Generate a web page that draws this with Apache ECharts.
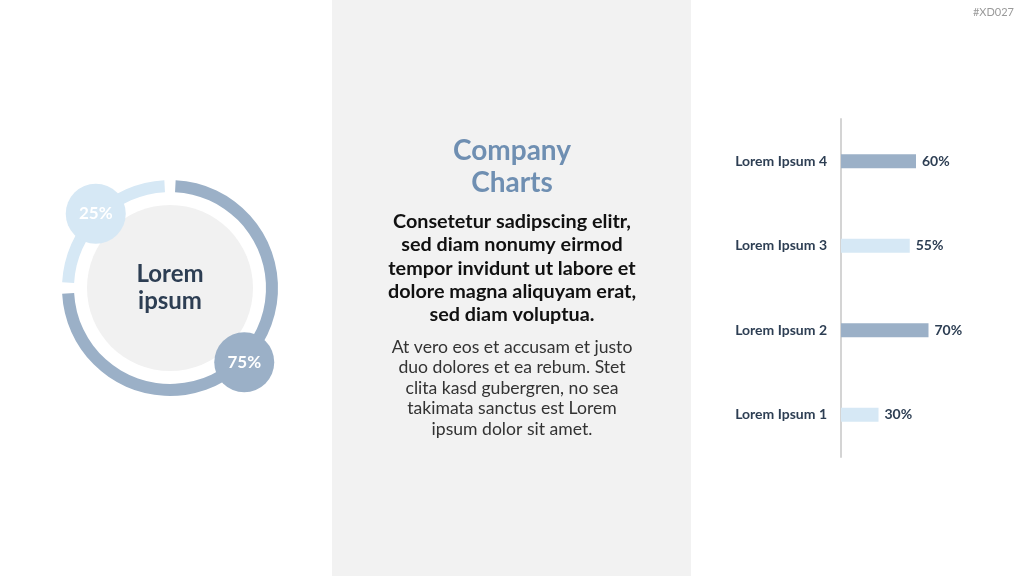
<!DOCTYPE HTML>
<html>
	<head>
		<meta charset="utf-8">
		<title>Company Charts</title>
		<style type="text/css">
			html, body { margin: 0; padding: 0; background: #ffffff; }
			#main { width: 1024px; height: 576px; }
		</style>
	</head>
	<body>
		<div id="main"></div>
	</body>
	<script type="text/javascript" src="https://cdn.jsdelivr.net/npm/echarts@6/dist/echarts.min.js"></script>
	<script type="text/javascript">
		// 数据
		var ringNames = ['Part A', 'Part B'];
		var ringValues = [75, 25];
		var centerLabel = 'Lorem\nipsum';
		var barCategories = ['Lorem Ipsum 1', 'Lorem Ipsum 2', 'Lorem Ipsum 3', 'Lorem Ipsum 4'];
		var barValues = [30, 70, 55, 60];

		var darkBlue = '#9bb0c7';
		var lightBlue = '#d6e8f5';
		var navy = '#2d3e53';
		var font = 'Lato';
		var ringColors = [darkBlue, lightBlue];
		var barColors = [lightBlue, darkBlue, lightBlue, darkBlue];

		option = {
			backgroundColor : '#ffffff',
			animation : false,
			graphic : [{
				type : 'rect',
				z : -10,
				shape : { x : 332, y : 0, width : 359, height : 576 },
				style : { fill : '#f2f2f2' }
			}],
			title : [{
				text : 'Company\nCharts',
				left : 512,
				top : 135,
				padding : 0,
				textAlign : 'center',
				textStyle : {
					fontFamily : font,
					fontSize : 28,
					fontWeight : 'bold',
					color : '#6f8fb2',
					lineHeight : 32,
					align : 'center'
				}
			}, {
				text : 'Consetetur sadipscing elitr,\nsed diam nonumy eirmod\ntempor invidunt ut labore et\ndolore magna aliquyam erat,\nsed diam voluptua.',
				left : 512,
				top : 210,
				padding : 0,
				textAlign : 'center',
				textStyle : {
					fontFamily : font,
					fontSize : 19.8,
					fontWeight : 'bold',
					color : '#111111',
					lineHeight : 23.3,
					align : 'center'
				}
			}, {
				text : 'At vero eos et accusam et justo\nduo dolores et ea rebum. Stet\nclita kasd gubergren, no sea\ntakimata sanctus est Lorem\nipsum dolor sit amet.',
				left : 512,
				top : 337,
				padding : 0,
				textAlign : 'center',
				textStyle : {
					fontFamily : font,
					fontSize : 17.6,
					fontWeight : 'normal',
					color : '#333333',
					lineHeight : 20.5,
					align : 'center'
				}
			}, {
				text : '#XD027',
				right : 10,
				top : 7,
				padding : 0,
				textStyle : {
					fontFamily : font,
					fontSize : 11,
					fontWeight : 'normal',
					color : '#9a9a9a'
				}
			}],
			grid : {
				left : 841,
				top : 119,
				width : 125,
				height : 338
			},
			xAxis : {
				type : 'value',
				min : 0,
				max : 100,
				show : false
			},
			yAxis : {
				type : 'category',
				data : barCategories,
				axisLine : { show : true, lineStyle : { color : '#d4d4d4', width : 2 } },
				axisTick : { show : false },
				axisLabel : {
					margin : 14,
					fontFamily : font,
					fontSize : 14,
					fontWeight : 'bold',
					color : navy
				}
			},
			series : [{
				type : 'pie',
				silent : true,
				z : 1,
				center : [170, 288],
				radius : [0, 83],
				itemStyle : { color : '#f1f1f1' },
				label : {
					position : 'center',
					formatter : '{b}',
					fontFamily : font,
					fontSize : 24,
					fontWeight : 'bold',
					lineHeight : 27,
					color : navy
				},
				labelLine : { show : false },
				data : [{ value : 1, name : centerLabel }]
			}, {
				type : 'pie',
				silent : true,
				z : 2,
				center : [170, 288],
				radius : [96, 108],
				startAngle : 90,
				clockwise : true,
				padAngle : 6,
				labelLine : { show : false },
				label : {
					position : 'inside',
					rotate : 0,
					formatter : '{c}%',
					width : 60,
					height : 60,
					lineHeight : 60,
					borderRadius : 30,
					align : 'center',
					verticalAlign : 'middle',
					fontFamily : font,
					fontSize : 17,
					fontWeight : 'bold',
					color : '#ffffff'
				},
				data : ringValues.map(function(v, i) {
					return {
						value : v,
						name : ringNames[i],
						itemStyle : { color : ringColors[i] },
						label : { backgroundColor : ringColors[i] }
					};
				})
			}, {
				type : 'bar',
				barWidth : 14,
				data : barValues.map(function(v, i) {
					return { value : v, itemStyle : { color : barColors[i] } };
				}),
				label : {
					show : true,
					position : 'right',
					distance : 6,
					formatter : '{c}%',
					fontFamily : font,
					fontSize : 14,
					fontWeight : 'bold',
					color : navy
				}
			}]
		};

		var myChart = echarts.init(document.getElementById('main'));
		myChart.setOption(option);
	</script>
</html>
